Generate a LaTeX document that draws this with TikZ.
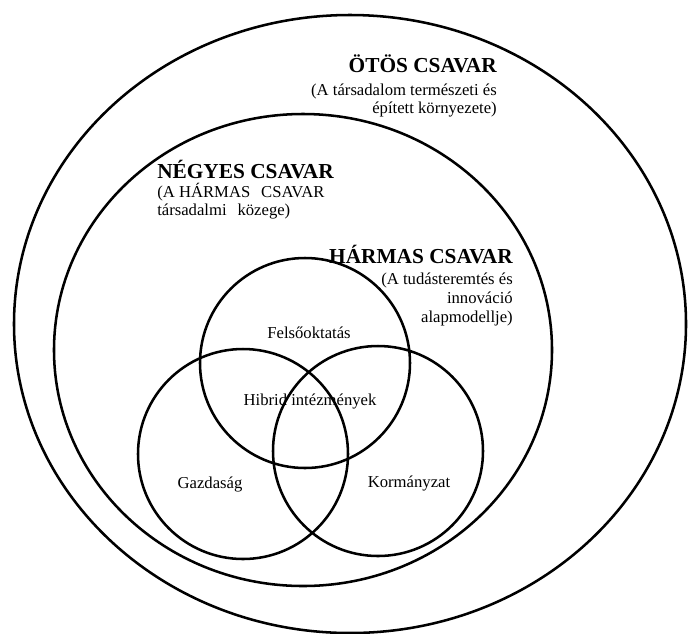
\documentclass[tikz,border=0pt]{standalone}
\usepackage{fontspec}
\setmainfont{Liberation Serif}
\usetikzlibrary{positioning}

\tikzset{
    ring/.style={line width=1.9pt},
    title/.style={font=\fontsize{16}{19}\selectfont\bfseries, inner sep=0pt},
    note/.style={font=\fontsize{12.5}{14}\selectfont, inner sep=0pt},
    field/.style={font=\fontsize{12.5}{14}\selectfont, inner sep=0pt, anchor=base},
}

\begin{document}
\begin{tikzpicture}[x=0.75pt, y=-0.75pt]
    \useasboundingbox (0,0) rectangle (688,633);

    % Outer rings
    \draw[ring] (350,324) ellipse [x radius=336, y radius=309];  % Ötös csavar
    \draw[ring] (303,350) ellipse [x radius=249, y radius=236];  % Négyes csavar

    % Venn circles of the triple helix
    \draw[ring] (305,363) circle [radius=105];  % Felsőoktatás
    \draw[ring] (243,454) circle [radius=105];  % Gazdaság
    \draw[ring] (378,451) circle [radius=105];  % Kormányzat

    % Ring titles (notes are anchored at their last line)
    \node[title, anchor=base east] (otos) at (497,72) {ÖTÖS CSAVAR};
    \node[note, anchor=base east, align=right] (otosnote) at (497,113.7)
        {(A társadalom természeti és\\épített környezete)};

    \node[title, anchor=base west] (negyes) at (157,178) {NÉGYES CSAVAR};
    \node[note, anchor=base west, align=left] (negyesnote) at (157,215.7)
        {(A HÁRMAS\hspace{5pt} CSAVAR\\társadalmi\hspace{5pt} közege)};

    \node[title, anchor=base east] (harmas) at (513,263) {HÁRMAS CSAVAR};
    \node[note, anchor=base east, align=right] (harmasnote) at (513,322.3)
        {(A tudásteremtés és\\innováció\\alapmodellje)};

    % Venn labels
    \node[field] (felso) at (309,338) {Felsőoktatás};
    \node[field] (hibrid) at (310,405) {Hibrid intézmények};
    \node[field] (gazd) at (210,488) {Gazdaság};
    \node[field] (korm) at (409,487) {Kormányzat};
\end{tikzpicture}
\end{document}
